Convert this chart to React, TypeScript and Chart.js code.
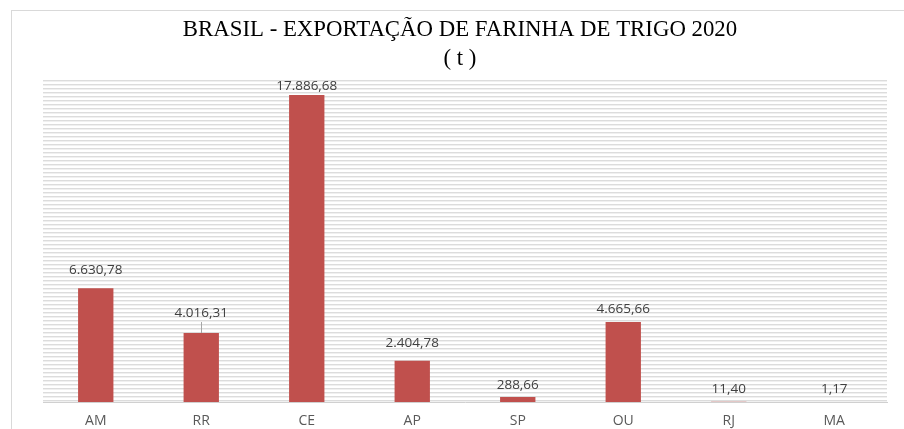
import React, { useEffect, useRef } from "react";
import { Chart, registerables } from "chart.js";

Chart.register(...registerables);

const titleLines = ["BRASIL - EXPORTAÇÃO DE FARINHA DE TRIGO 2020", "( t )"];
const categories = ["AM", "RR", "CE", "AP", "SP", "OU", "RJ", "MA"];
const values = [6630.78, 4016.31, 17886.68, 2404.78, 288.66, 4665.66, 11.4, 1.17];
const yMax = 18870;

const fmt = (v: number) => {
  const [i, d] = v.toFixed(2).split(".");
  return i.replace(/\B(?=(\d{3})+(?!\d))/g, ".") + "," + d;
};

const labelOffsets = [18, 20, 9, 18, 12, 13, 13, 13];

const decorPlugin = {
  id: "decor",
  beforeDraw(chart: any) {
    const { ctx, chartArea } = chart;
    ctx.save();
    ctx.fillStyle = "#ffffff";
    ctx.fillRect(0, 0, chart.width, chart.height);
    // outer border
    ctx.strokeStyle = "#d9d9d9";
    ctx.lineWidth = 1;
    ctx.strokeRect(11.5, 10.5, chart.width + 10, chart.height + 10);
    // striped plot area
    const pc = document.createElement("canvas");
    pc.width = 4;
    pc.height = 4;
    const p = pc.getContext("2d")!;
    p.fillStyle = "#ffffff";
    p.fillRect(0, 0, 4, 4);
    p.fillStyle = "#dcdcdc";
    p.fillRect(0, 0, 4, 1);
    p.fillStyle = "#f0f0f0";
    p.fillRect(0, 1, 4, 1);
    const pat = ctx.createPattern(pc, "repeat");
    ctx.fillStyle = pat;
    ctx.fillRect(chartArea.left, chartArea.top, chartArea.right - chartArea.left, chartArea.bottom - chartArea.top);
    // title
    ctx.fillStyle = "#000000";
    ctx.font = '22.8px "Liberation Serif", serif';
    ctx.textAlign = "center";
    ctx.textBaseline = "middle";
    ctx.fillText(titleLines[0], 460, 30);
    ctx.fillText(titleLines[1], 460, 59);
    ctx.restore();
  },
  afterDatasetsDraw(chart: any) {
    const { ctx } = chart;
    const meta = chart.getDatasetMeta(0);
    ctx.save();
    ctx.font = '13.5px "Open Sans", sans-serif';
    ctx.fillStyle = "#404040";
    ctx.textAlign = "center";
    ctx.textBaseline = "middle";
    meta.data.forEach((bar: any, i: number) => {
      const off = labelOffsets[i];
      const y = bar.y - off;
      ctx.fillText(fmt(values[i]), bar.x, y);
      if (off >= 20) {
        ctx.strokeStyle = "#a6a6a6";
        ctx.lineWidth = 1;
        ctx.beginPath();
        ctx.moveTo(Math.round(bar.x) + 0.5, y + 9);
        ctx.lineTo(Math.round(bar.x) + 0.5, bar.y);
        ctx.stroke();
      }
    });
    ctx.restore();
  },
};

export default function App() {
  const ref = useRef<HTMLCanvasElement>(null);
  useEffect(() => {
    const chart = new Chart(ref.current!, {
      type: "bar",
      data: {
        labels: categories,
        datasets: [
          {
            data: values,
            backgroundColor: "#c0504d",
            barPercentage: 0.335,
            categoryPercentage: 1,
          },
        ],
      },
      options: {
        animation: false,
        responsive: false,
        layout: { padding: { left: 43, right: 17, top: 78, bottom: 0 } },
        plugins: { legend: { display: false }, tooltip: { enabled: false } },
        scales: {
          x: {
            grid: { display: false, drawTicks: false },
            border: { display: true, color: "#d0d0d0", width: 1 },
            ticks: {
              padding: 11,
              color: "#595959",
              font: { family: '"Open Sans", sans-serif', size: 14 },
            },
            afterFit(scale: any) {
              scale.height = 27;
            },
          },
          y: { display: false, min: 0, max: yMax },
        },
      },
      plugins: [decorPlugin],
    } as any);
    return () => chart.destroy();
  }, []);
  return (
    <div style={{ position: "fixed", left: 0, top: 0, width: 904, height: 429 }}>
      <canvas ref={ref} width={904} height={429} style={{ width: 904, height: 429 }} />
    </div>
  );
}
